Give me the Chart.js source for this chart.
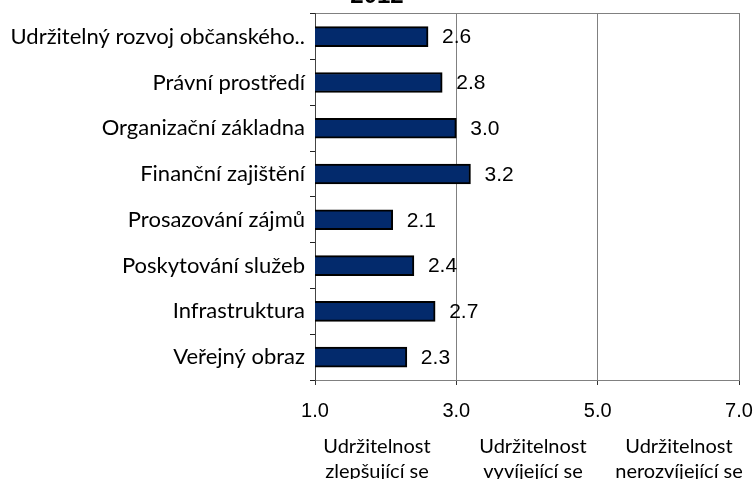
<!DOCTYPE html>
<html lang="cs">
<head>
    <meta charset="UTF-8">
    <title>Udržitelnost 2012</title>
    <script src="https://cdn.jsdelivr.net/npm/chart.js"></script>
    <style>
        html, body { margin: 0; padding: 0; background: #fff; }
        #wrap {
            position: relative;
            width: 754px;
            height: 479px;
            overflow: hidden;
        }
        #wrap canvas {
            position: absolute;
            left: 0;
            top: -20px;
        }
        .zone {
            position: absolute;
            top: 433px;
            font-family: Lato, sans-serif;
            font-size: 20px;
            line-height: 25px;
            text-align: center;
            white-space: nowrap;
            color: #000;
            transform: translateX(-50%);
        }
    </style>
</head>
<body>

<div id="wrap">
    <canvas id="chart" width="754" height="499"></canvas>
    <div class="zone" id="z0" style="left:377px"></div>
    <div class="zone" id="z1" style="left:533px"></div>
    <div class="zone" id="z2" style="left:679px"></div>
</div>

<script>
    // data
    const categories = [
        'Udržitelný rozvoj občanského..',
        'Právní prostředí',
        'Organizační základna',
        'Finanční zajištění',
        'Prosazování zájmů',
        'Poskytování služeb',
        'Infrastruktura',
        'Veřejný obraz'
    ];
    const scores = [2.6, 2.8, 3.0, 3.2, 2.1, 2.4, 2.7, 2.3];
    const yearTitle = '2012';
    const zoneLabels = [
        ['Udržitelnost', 'zlepšující se'],
        ['Udržitelnost', 'vyvíjející se'],
        ['Udržitelnost', 'nerozvíjející se']
    ];

    zoneLabels.forEach(function (lines, i) {
        document.getElementById('z' + i).innerHTML = lines.join('<br>');
    });

    // value labels to the right of each bar
    const valueLabels = {
        id: 'valueLabels',
        afterDatasetsDraw(chart) {
            const ctx = chart.ctx;
            const meta = chart.getDatasetMeta(0);
            ctx.save();
            ctx.font = '21px "Liberation Sans", Arial, sans-serif';
            ctx.fillStyle = '#000';
            ctx.textAlign = 'left';
            ctx.textBaseline = 'middle';
            meta.data.forEach(function (bar, i) {
                ctx.fillText(scores[i].toFixed(1), bar.x + 14, bar.y + 1);
            });
            ctx.restore();
        }
    };

    const ctx = document.getElementById('chart').getContext('2d');

    new Chart(ctx, {
        type: 'bar',
        data: {
            labels: categories,
            datasets: [{
                data: scores,
                backgroundColor: '#032A6C',
                borderColor: '#000',
                borderWidth: 2,
                borderSkipped: false,
                barThickness: 20
            }]
        },
        options: {
            indexAxis: 'y',
            responsive: false,
            animation: false,
            layout: { padding: 0 },
            plugins: {
                legend: { display: false },
                tooltip: { enabled: false },
                title: {
                    display: true,
                    text: yearTitle,
                    color: '#000',
                    font: { family: '"Liberation Sans", Arial, sans-serif', size: 24, weight: 'bold' },
                    padding: { top: 2, bottom: 3 }
                }
            },
            scales: {
                x: {
                    position: 'bottom',
                    min: 1,
                    max: 7,
                    ticks: {
                        stepSize: 2,
                        color: '#000',
                        padding: 14,
                        font: { family: '"Liberation Sans", Arial, sans-serif', size: 20 },
                        callback: function (v) { return Number(v).toFixed(1); }
                    },
                    grid: { color: '#808080', tickLength: 5, tickColor: '#333' },
                    border: { color: '#808080' },
                    afterFit: function (s) {
                        s.height = 99;
                        s.paddingLeft = 0;
                        s.paddingRight = 15;
                    }
                },
                x2: {
                    position: 'top',
                    min: 1,
                    max: 7,
                    ticks: { display: false },
                    grid: { display: false },
                    border: { color: '#808080' },
                    afterFit: function (s) {
                        s.height = 0;
                        s.paddingLeft = 0;
                        s.paddingRight = 0;
                    }
                },
                y: {
                    ticks: {
                        color: '#000',
                        padding: 5,
                        font: { family: 'Lato, sans-serif', size: 22 }
                    },
                    grid: { drawOnChartArea: false, tickLength: 5, color: '#222' },
                    border: { color: '#444' },
                    afterFit: function (s) { s.width = 315; }
                }
            }
        },
        plugins: [valueLabels]
    });
</script>

</body>
</html>
